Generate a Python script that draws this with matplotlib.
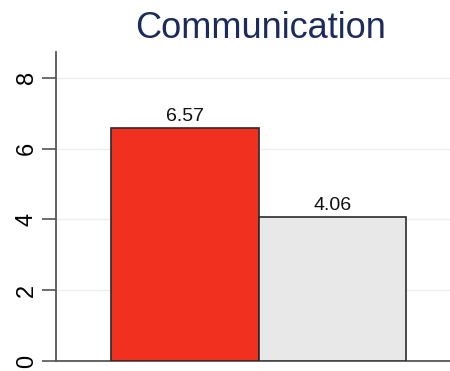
import matplotlib.pyplot as plt

plt.rcParams['font.family'] = ['Liberation Sans', 'DejaVu Sans']

groups = ['Group A', 'Group B']
values = [6.57, 4.06]
bar_colors = ['#f2301f', '#e8e8e8']
yticks = [0, 2, 4, 6, 8]

fig = plt.figure(figsize=(4.5, 3.71), dpi=100)
ax = fig.add_axes([0.1244, 0.027, 0.8756, 0.833])

pos = list(range(len(values)))
ax.bar(pos, values, width=1.0, color=bar_colors, edgecolor='#2a2a2a', linewidth=1.2, zorder=3)
for p, v in zip(pos, values):
    ax.text(p, v + 0.1, f'{v:.2f}', ha='center', va='bottom', fontsize=14, color='#111111')

ax.set_xlim(-0.872, 1.797)
ax.set_ylim(0, 8.73)
ax.set_yticks(yticks)
ax.set_yticklabels([str(t) for t in yticks], rotation=90, va='center', fontsize=17)
ax.set_xticks([])
ax.grid(axis='y', color='#eeeeee', linewidth=1, zorder=0)

for s in ['top', 'right']:
    ax.spines[s].set_visible(False)
ax.spines['left'].set_color('#555555')
ax.spines['bottom'].set_color('#555555')
ax.spines['left'].set_linewidth(1.3)
ax.spines['bottom'].set_linewidth(1.3)
ax.tick_params(axis='y', length=10, width=1.2, color='#555555', pad=3)

fig.text(0.578, 0.922, 'Communication', ha='center', va='center', fontsize=26, color='#1c2b5a')

fig.savefig('out.png', dpi=100)
